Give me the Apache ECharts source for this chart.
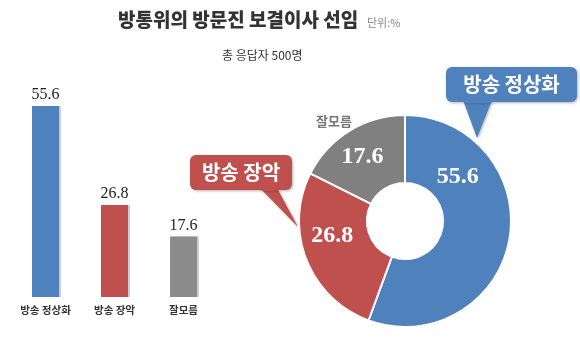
<!DOCTYPE html>
<html><head><meta charset="utf-8">
<script src="https://cdn.jsdelivr.net/npm/echarts@6/dist/echarts.min.js"></script>
<style>html,body{margin:0;padding:0;background:#fff}#c{width:580px;height:353px}</style>
</head><body><div id="c"></div>
<script>
const categories = ['방송 정상화', '방송 장악', '잘모름'];
const values = [55.6, 26.8, 17.6];
const colors = ['#4F81BD', '#C0504D', '#808080'];
const titleText = '방통위의 방문진 보결이사 선임';
const unitText = '단위:%';
const subText = '총 응답자 500명';

const KR = '"Noto Sans CJK KR", sans-serif';
const SERIF = '"Liberation Serif", "DejaVu Serif", serif';

function callout(x, y, w, h, base1, base2, tip, color, text, fs) {
  return {
    type: 'group', z: 100,
    children: [
      { type: 'polygon', shape: { points: [[base1, y + h - 2], [base2, y + h - 2], tip] },
        style: { fill: color, shadowColor: 'rgba(0,0,0,0.3)', shadowBlur: 3, shadowOffsetX: 1, shadowOffsetY: 1 } },
      { type: 'rect', shape: { x: x, y: y, width: w, height: h, r: 6 },
        style: { fill: color, shadowColor: 'rgba(0,0,0,0.3)', shadowBlur: 3, shadowOffsetX: 1, shadowOffsetY: 1 } },
      { type: 'polygon', shape: { points: [[base1 + 1, y + h - 4], [base2 - 1, y + h - 4], [base2 - 2, y + h + 1], [base1 + 2, y + h + 1]] },
        style: { fill: color } },
      { type: 'text', x: x + w / 2, y: y + h / 2,
        style: { text: text, fill: '#fff', font: 'bold ' + fs + 'px ' + KR, align: 'center', verticalAlign: 'middle' } }
    ]
  };
}

// label nudges for the donut values (reference places them off the slice midpoints)
const pieLabelShift = [[-21, -57], [-3, -13], [-3, 0]];

const chart = echarts.init(document.getElementById('c'));
chart.setOption({
  animation: false,
  backgroundColor: '#fff',
  title: [
    { text: titleText, left: 113, top: 5, textStyle: { fontFamily: KR, fontSize: 19, fontWeight: 900, color: '#333' } },
    { text: unitText, left: 362, top: 12, textStyle: { fontFamily: KR, fontSize: 11, fontWeight: 'normal', color: '#888' } },
    { text: subText, left: 217, top: 44, textStyle: { fontFamily: KR, fontSize: 12, fontWeight: 'normal', color: '#333' } }
  ],
  grid: { left: 11, width: 207, top: 91, bottom: 56 },
  xAxis: {
    type: 'category', data: categories,
    axisLine: { show: false }, axisTick: { show: false },
    axisLabel: { fontFamily: KR, fontSize: 10.5, fontWeight: 'bold', color: '#333', margin: 8 }
  },
  yAxis: { type: 'value', min: 0, max: 60, show: false, splitLine: { show: false } },
  series: [
    {
      type: 'bar', barWidth: 27,
      data: values.map((v, i) => ({ value: v, itemStyle: { color: colors[i] === '#808080' ? '#8c8c8c' : colors[i] } })),
      itemStyle: { shadowColor: 'rgba(0,0,0,0.2)', shadowOffsetX: 2, shadowBlur: 0 },
      label: { show: true, position: 'top', distance: 3, fontFamily: SERIF, fontSize: 16, color: '#222' }
    },
    {
      type: 'pie', center: [405, 221], radius: [38, 106], startAngle: 90, clockwise: true,
      data: categories.map((c, i) => ({ name: c, value: values[i], itemStyle: { color: colors[i] } })),
      itemStyle: { borderColor: '#fff', borderWidth: 2 },
      label: { show: true, position: 'inside', formatter: '{c}', fontFamily: SERIF, fontSize: 24, fontWeight: 'bold', color: '#fff' },
      labelLine: { show: false },
      labelLayout: function (p) { const s = pieLabelShift[p.dataIndex] || [0, 0]; return { dx: s[0], dy: s[1] }; },
      emphasis: { disabled: true }
    }
  ],
  graphic: [
    { type: 'text', x: 334, y: 121, z: 50, style: { text: categories[2], fill: '#777', font: 'bold 13px ' + KR, align: 'center', verticalAlign: 'middle' } },
    callout(446, 67, 131, 35, 463, 492, [477, 138], colors[0], categories[0], 20),
    callout(190, 155, 102, 35, 260, 277, [298, 227], colors[1], categories[1], 20)
  ]
});
</script>
</body></html>
